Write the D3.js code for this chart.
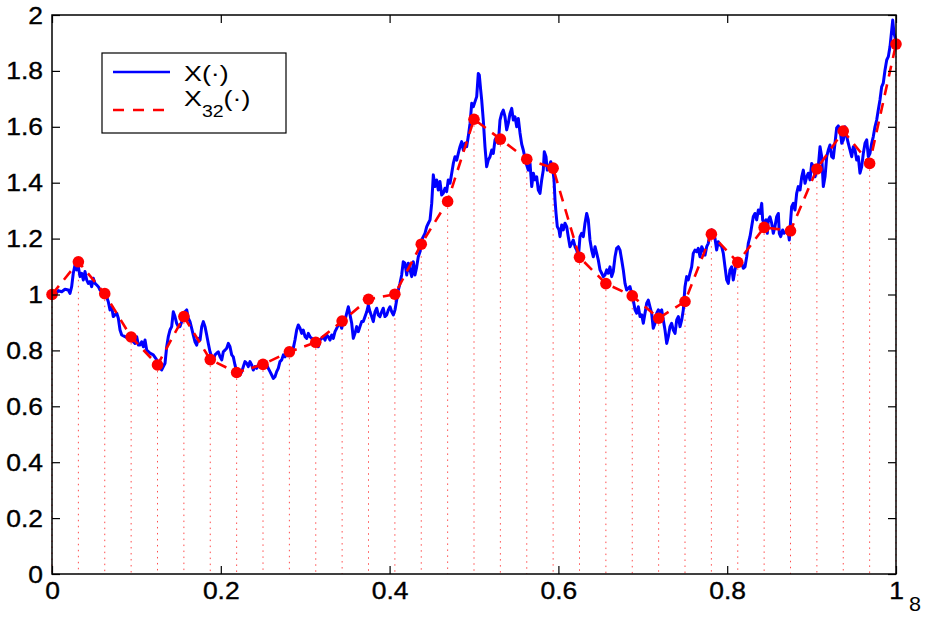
<!DOCTYPE html>
<html>
<head>
<meta charset="utf-8">
<script src="https://cdn.jsdelivr.net/npm/d3@7"></script>
<style>
  body { margin: 0; background: #fff; }
  text { font-family: "Liberation Sans", Arial, Helvetica, sans-serif; fill: #000; }
</style>
</head>
<body>
<svg id="chart" width="930" height="617"></svg>
<script>
// Fine path X(t), sampled along t in [0, 1]
const pathT = [
  0, 0.0036, 0.0075, 0.0115, 0.0154, 0.0193, 0.0213, 0.0233, 0.0252, 0.0273,
  0.0293, 0.0312, 0.0332, 0.0352, 0.0371, 0.0391, 0.0411, 0.0430, 0.0450, 0.0470,
  0.0489, 0.0509, 0.0530, 0.0549, 0.0569, 0.0608, 0.0648, 0.0667, 0.0687, 0.0707,
  0.0726, 0.0746, 0.0767, 0.0786, 0.0806, 0.0826, 0.0865, 0.0904, 0.0944, 0.0983,
  0.1004, 0.1023, 0.1043, 0.1063, 0.1082, 0.1102, 0.1122, 0.1161, 0.1200, 0.1241,
  0.1280, 0.1300, 0.1319, 0.1339, 0.1359, 0.1378, 0.1398, 0.1418, 0.1437, 0.1457,
  0.1477, 0.1496, 0.1517, 0.1537, 0.1556, 0.1576, 0.1596, 0.1615, 0.1635, 0.1655,
  0.1674, 0.1694, 0.1714, 0.1733, 0.1754, 0.1774, 0.1793, 0.1813, 0.1833, 0.1852,
  0.1872, 0.1892, 0.1911, 0.1931, 0.1951, 0.1970, 0.1991, 0.2011, 0.2030, 0.2050,
  0.2070, 0.2089, 0.2109, 0.2129, 0.2148, 0.2168, 0.2188, 0.2207, 0.2227, 0.2248,
  0.2267, 0.2287, 0.2307, 0.2326, 0.2346, 0.2366, 0.2385, 0.2405, 0.2425, 0.2444,
  0.2464, 0.2485, 0.2504, 0.2524, 0.2544, 0.2563, 0.2583, 0.2603, 0.2622, 0.2642,
  0.2662, 0.2681, 0.2701, 0.2722, 0.2741, 0.2761, 0.2781, 0.2800, 0.2820, 0.2840,
  0.2859, 0.2879, 0.2899, 0.2918, 0.2938, 0.2958, 0.2977, 0.2998, 0.3018, 0.3037,
  0.3057, 0.3077, 0.3096, 0.3116, 0.3136, 0.3155, 0.3175, 0.3195, 0.3214, 0.3235,
  0.3255, 0.3274, 0.3294, 0.3314, 0.3333, 0.3353, 0.3373, 0.3392, 0.3412, 0.3432,
  0.3451, 0.3472, 0.3492, 0.3511, 0.3531, 0.3551, 0.3570, 0.3590, 0.3610, 0.3629,
  0.3649, 0.3669, 0.3688, 0.3709, 0.3729, 0.3748, 0.3768, 0.3788, 0.3807, 0.3827,
  0.3847, 0.3866, 0.3886, 0.3906, 0.3925, 0.3945, 0.3966, 0.3985, 0.4005, 0.4025,
  0.4044, 0.4064, 0.4084, 0.4103, 0.4123, 0.4143, 0.4162, 0.4182, 0.4203, 0.4222,
  0.4242, 0.4262, 0.4281, 0.4301, 0.4321, 0.4340, 0.4360, 0.4380, 0.4419, 0.4440,
  0.4459, 0.4479, 0.4499, 0.4518, 0.4538, 0.4558, 0.4577, 0.4597, 0.4617, 0.4636,
  0.4656, 0.4676, 0.4695, 0.4716, 0.4736, 0.4755, 0.4775, 0.4795, 0.4814, 0.4834,
  0.4854, 0.4873, 0.4893, 0.4913, 0.4932, 0.4953, 0.4973, 0.4992, 0.5012, 0.5032,
  0.5051, 0.5063, 0.5079, 0.5091, 0.5110, 0.5130, 0.5150, 0.5169, 0.5190, 0.5210,
  0.5229, 0.5249, 0.5269, 0.5288, 0.5308, 0.5328, 0.5347, 0.5367, 0.5387, 0.5406,
  0.5427, 0.5447, 0.5466, 0.5486, 0.5506, 0.5525, 0.5545, 0.5565, 0.5584, 0.5604,
  0.5624, 0.5643, 0.5664, 0.5684, 0.5703, 0.5723, 0.5743, 0.5762, 0.5782, 0.5802,
  0.5821, 0.5833, 0.5853, 0.5868, 0.5892, 0.5909, 0.5932, 0.5948, 0.5960, 0.5972,
  0.5987, 0.6007, 0.6019, 0.6039, 0.6058, 0.6078, 0.6098, 0.6117, 0.6137, 0.6158,
  0.6177, 0.6197, 0.6217, 0.6236, 0.6256, 0.6276, 0.6295, 0.6315, 0.6335, 0.6354,
  0.6374, 0.6394, 0.6414, 0.6434, 0.6454, 0.6473, 0.6493, 0.6513, 0.6532, 0.6552,
  0.6572, 0.6591, 0.6611, 0.6631, 0.6650, 0.6671, 0.6690, 0.6710, 0.6730, 0.6750,
  0.6769, 0.6789, 0.6809, 0.6848, 0.6868, 0.6887, 0.6908, 0.6928, 0.6947, 0.6967,
  0.6987, 0.7006, 0.7026, 0.7046, 0.7065, 0.7085, 0.7105, 0.7124, 0.7145, 0.7165,
  0.7184, 0.7204, 0.7224, 0.7243, 0.7263, 0.7283, 0.7302, 0.7322, 0.7342, 0.7361,
  0.7382, 0.7402, 0.7421, 0.7441, 0.7461, 0.7480, 0.7500, 0.7520, 0.7539, 0.7559,
  0.7579, 0.7598, 0.7618, 0.7638, 0.7657, 0.7678, 0.7698, 0.7717, 0.7737, 0.7757,
  0.7776, 0.7796, 0.7816, 0.7835, 0.7855, 0.7875, 0.7894, 0.7915, 0.7935, 0.7954,
  0.7974, 0.7994, 0.8013, 0.8033, 0.8053, 0.8072, 0.8092, 0.8112, 0.8131, 0.8152,
  0.8172, 0.8191, 0.8211, 0.8231, 0.8250, 0.8270, 0.8290, 0.8309, 0.8329, 0.8349,
  0.8369, 0.8389, 0.8409, 0.8420, 0.8436, 0.8460, 0.8475, 0.8487, 0.8507, 0.8527,
  0.8546, 0.8566, 0.8586, 0.8606, 0.8617, 0.8634, 0.8657, 0.8673, 0.8697, 0.8724,
  0.8736, 0.8752, 0.8764, 0.8783, 0.8803, 0.8823, 0.8842, 0.8863, 0.8883, 0.8902,
  0.8922, 0.8942, 0.8961, 0.8981, 0.9001, 0.9020, 0.9040, 0.9060, 0.9079, 0.9100,
  0.9120, 0.9139, 0.9159, 0.9179, 0.9198, 0.9218, 0.9238, 0.9257, 0.9277, 0.9297,
  0.9316, 0.9336, 0.9357, 0.9376, 0.9396, 0.9416, 0.9435, 0.9455, 0.9475, 0.9494,
  0.9514, 0.9534, 0.9553, 0.9573, 0.9593, 0.9613, 0.9633, 0.9653, 0.9672, 0.9692,
  0.9712, 0.9731, 0.9751, 0.9771, 0.9790, 0.9810, 0.9830, 0.9849, 0.9870, 0.9890,
  0.9909, 0.9929, 0.9949, 0.9961, 0.9976, 0.9988, 1.0000
];
const pathX = [
  1.000, 0.998, 1.014, 1.010, 1.019, 1.016, 1.004, 1.028, 1.076, 1.106,
  1.088, 1.099, 1.064, 1.076, 1.052, 1.082, 1.052, 1.040, 1.046, 1.028,
  1.058, 1.040, 1.034, 1.028, 1.016, 1.004, 0.992, 0.974, 0.945, 0.956,
  0.921, 0.927, 0.933, 0.915, 0.873, 0.855, 0.849, 0.843, 0.837, 0.825,
  0.849, 0.819, 0.819, 0.831, 0.813, 0.837, 0.801, 0.790, 0.784, 0.766,
  0.736, 0.730, 0.742, 0.754, 0.813, 0.849, 0.873, 0.885, 0.938, 0.921,
  0.897, 0.885, 0.885, 0.903, 0.921, 0.938, 0.945, 0.915, 0.903, 0.879,
  0.855, 0.831, 0.819, 0.843, 0.837, 0.885, 0.903, 0.885, 0.855, 0.825,
  0.795, 0.777, 0.766, 0.784, 0.790, 0.795, 0.777, 0.766, 0.795, 0.801,
  0.808, 0.825, 0.813, 0.784, 0.777, 0.748, 0.724, 0.718, 0.712, 0.724,
  0.742, 0.760, 0.754, 0.742, 0.760, 0.748, 0.730, 0.742, 0.736, 0.748,
  0.754, 0.748, 0.742, 0.754, 0.748, 0.736, 0.724, 0.712, 0.700, 0.706,
  0.724, 0.736, 0.760, 0.766, 0.784, 0.777, 0.790, 0.784, 0.795, 0.801,
  0.808, 0.837, 0.873, 0.891, 0.880, 0.861, 0.873, 0.849, 0.843, 0.861,
  0.849, 0.843, 0.837, 0.831, 0.825, 0.813, 0.837, 0.843, 0.849, 0.837,
  0.855, 0.849, 0.837, 0.855, 0.843, 0.867, 0.879, 0.891, 0.897, 0.879,
  0.903, 0.909, 0.933, 0.956, 0.927, 0.897, 0.843, 0.861, 0.885, 0.867,
  0.885, 0.903, 0.903, 0.921, 0.938, 0.962, 0.938, 0.921, 0.903, 0.938,
  0.951, 0.927, 0.921, 0.938, 0.951, 0.921, 0.927, 0.945, 0.956, 0.938,
  0.927, 0.945, 0.980, 1.016, 1.040, 1.070, 1.117, 1.112, 1.070, 1.112,
  1.088, 1.064, 1.117, 1.070, 1.099, 1.135, 1.153, 1.195, 1.219, 1.243,
  1.255, 1.267, 1.326, 1.428, 1.386, 1.410, 1.374, 1.404, 1.356, 1.362,
  1.380, 1.368, 1.410, 1.398, 1.434, 1.469, 1.493, 1.481, 1.505, 1.529,
  1.547, 1.517, 1.541, 1.529, 1.565, 1.612, 1.684, 1.672, 1.690, 1.708,
  1.791, 1.785, 1.732, 1.696, 1.624, 1.529, 1.457, 1.481, 1.493, 1.517,
  1.505, 1.553, 1.565, 1.541, 1.624, 1.648, 1.660, 1.636, 1.589, 1.612,
  1.648, 1.666, 1.624, 1.636, 1.600, 1.630, 1.578, 1.538, 1.517, 1.488,
  1.463, 1.445, 1.469, 1.386, 1.434, 1.410, 1.421, 1.374, 1.362, 1.410,
  1.445, 1.511, 1.493, 1.445, 1.457, 1.475, 1.452, 1.410, 1.338, 1.290,
  1.243, 1.231, 1.207, 1.249, 1.231, 1.255, 1.243, 1.207, 1.171, 1.183,
  1.195, 1.171, 1.159, 1.131, 1.207, 1.219, 1.207, 1.255, 1.290, 1.267,
  1.195, 1.159, 1.135, 1.171, 1.147, 1.123, 1.088, 1.076, 1.064, 1.070,
  1.088, 1.076, 1.099, 1.064, 1.082, 1.135, 1.165, 1.171, 1.159, 1.123,
  1.088, 1.040, 1.016, 1.028, 1.004, 0.980, 0.945, 0.933, 0.956, 0.921,
  0.927, 0.897, 0.933, 0.969, 0.980, 0.956, 0.933, 0.879, 0.897, 0.933,
  0.945, 0.938, 0.945, 0.909, 0.873, 0.825, 0.849, 0.885, 0.897, 0.873,
  0.861, 0.909, 0.921, 0.885, 0.909, 0.945, 1.028, 1.064, 1.052, 1.076,
  1.099, 1.147, 1.159, 1.153, 1.165, 1.135, 1.171, 1.159, 1.141, 1.171,
  1.183, 1.219, 1.231, 1.219, 1.201, 1.159, 1.189, 1.177, 1.171, 1.147,
  1.099, 1.052, 1.040, 1.088, 1.099, 1.052, 1.088, 1.112, 1.123, 1.110,
  1.112, 1.094, 1.099, 1.135, 1.183, 1.207, 1.243, 1.278, 1.290, 1.267,
  1.302, 1.290, 1.326, 1.267, 1.255, 1.267, 1.219, 1.267, 1.278, 1.255,
  1.219, 1.243, 1.278, 1.290, 1.219, 1.207, 1.231, 1.219, 1.225, 1.219,
  1.195, 1.267, 1.314, 1.326, 1.302, 1.362, 1.386, 1.374, 1.421, 1.445,
  1.398, 1.421, 1.434, 1.410, 1.469, 1.457, 1.421, 1.445, 1.457, 1.529,
  1.493, 1.386, 1.421, 1.493, 1.517, 1.535, 1.493, 1.488, 1.541, 1.596,
  1.603, 1.592, 1.541, 1.553, 1.600, 1.565, 1.541, 1.517, 1.493, 1.529,
  1.517, 1.481, 1.493, 1.434, 1.457, 1.505, 1.541, 1.553, 1.493, 1.505,
  1.541, 1.565, 1.600, 1.624, 1.660, 1.696, 1.743, 1.756, 1.803, 1.839,
  1.851, 1.887, 1.946, 1.982, 1.935, 1.922, 1.900
];

// Coarse approximation X_32: values at t = k/32
const sampleT = [
  0, 0.03125, 0.0625, 0.09375, 0.125, 0.15625, 0.1875, 0.21875, 0.25,
  0.28125, 0.3125, 0.34375, 0.375, 0.40625, 0.4375, 0.46875, 0.5,
  0.53125, 0.5625, 0.59375, 0.625, 0.65625, 0.6875, 0.71875, 0.75,
  0.78125, 0.8125, 0.84375, 0.875, 0.90625, 0.9375, 0.96875, 1
];
const sampleX = [
  1.000, 1.117, 1.003, 0.848, 0.748, 0.921, 0.767, 0.721, 0.750,
  0.795, 0.829, 0.905, 0.983, 1.001, 1.180, 1.333, 1.627,
  1.556, 1.484, 1.452, 1.133, 1.039, 0.995, 0.915, 0.975,
  1.216, 1.115, 1.240, 1.228, 1.449, 1.585, 1.469, 1.896
];

const xTicks = [0, 0.2, 0.4, 0.6, 0.8, 1];
const yTicks = [0, 0.2, 0.4, 0.6, 0.8, 1, 1.2, 1.4, 1.6, 1.8, 2];

const pathData = pathT.map((t, i) => ({ t, v: pathX[i] }));
const sampleData = sampleT.map((t, i) => ({ t, v: sampleX[i] }));

const svg = d3.select("#chart");
const plot = { left: 52, right: 896, top: 15, bottom: 574 };

const x = d3.scaleLinear().domain([0, 1]).range([plot.left, plot.right]);
const y = d3.scaleLinear().domain([0, 2]).range([plot.bottom, plot.top]);

const tickFmt = d => d3.format("~g")(d);
const textStretch = 1.15;

// Dotted drop lines from each sample down to the t-axis
svg.append("g")
  .selectAll("line")
  .data(sampleData)
  .join("line")
  .attr("x1", d => x(d.t)).attr("x2", d => x(d.t))
  .attr("y1", d => y(d.v)).attr("y2", y(0))
  .attr("stroke", "#ff0000")
  .attr("stroke-width", 1)
  .attr("stroke-opacity", 0.7)
  .attr("stroke-dasharray", "1.5,4.5");

// Fine path
const line = d3.line().x(d => x(d.t)).y(d => y(d.v));
svg.append("path")
  .datum(pathData)
  .attr("d", line)
  .attr("fill", "none")
  .attr("stroke", "#0000ff")
  .attr("stroke-width", 3)
  .attr("stroke-linejoin", "round");

// Piecewise-linear X_32
svg.append("path")
  .datum(sampleData)
  .attr("d", line)
  .attr("fill", "none")
  .attr("stroke", "#ff0000")
  .attr("stroke-width", 2.6)
  .attr("stroke-dasharray", "11,8");

svg.append("g")
  .selectAll("circle")
  .data(sampleData)
  .join("circle")
  .attr("cx", d => x(d.t))
  .attr("cy", d => y(d.v))
  .attr("r", 5.8)
  .attr("fill", "#ff0000");

// Axes box with inward ticks on all four sides
const tickLen = 8;
const axisG = svg.append("g");
axisG.append("rect")
  .attr("x", plot.left).attr("y", plot.top)
  .attr("width", plot.right - plot.left).attr("height", plot.bottom - plot.top)
  .attr("fill", "none").attr("stroke", "#000").attr("stroke-width", 1.5);

const bottomAxis = d3.axisBottom(x).tickValues(xTicks).tickSizeInner(-tickLen).tickSizeOuter(0).tickFormat(tickFmt);
const topAxis = d3.axisTop(x).tickValues(xTicks).tickSizeInner(-tickLen).tickSizeOuter(0).tickFormat("");
const leftAxis = d3.axisLeft(y).tickValues(yTicks).tickSizeInner(-tickLen).tickSizeOuter(0).tickFormat(tickFmt);
const rightAxis = d3.axisRight(y).tickValues(yTicks).tickSizeInner(-tickLen).tickSizeOuter(0).tickFormat("");

function styleAxis(g) {
  g.select(".domain").remove();
  g.selectAll(".tick line").attr("stroke", "#000").attr("stroke-width", 1.2);
  g.selectAll(".tick text")
    .attr("fill", "#000")
    .attr("stroke", "#000")
    .attr("stroke-width", 0.35)
    .style("font-family", '"Liberation Sans", Arial, sans-serif')
    .style("font-size", "23px");
}

axisG.append("g").attr("transform", `translate(0,${plot.bottom})`).call(bottomAxis).call(styleAxis)
  .selectAll(".tick text")
  .attr("x", 0).attr("y", 0).attr("dy", null)
  .attr("transform", `translate(0,25) scale(${textStretch},1)`);
axisG.append("g").attr("transform", `translate(0,${plot.top})`).call(topAxis).call(styleAxis);
axisG.append("g").attr("transform", `translate(${plot.left},0)`).call(leftAxis).call(styleAxis)
  .selectAll(".tick text")
  .attr("x", 0).attr("y", 0).attr("dy", null)
  .attr("transform", `translate(-9,8) scale(${textStretch},1)`);
axisG.append("g").attr("transform", `translate(${plot.right},0)`).call(rightAxis).call(styleAxis);

// Stray exponent-style label beside the t-axis end
svg.append("text")
  .attr("text-anchor", "middle")
  .attr("transform", `translate(915,611) scale(1.08,1)`)
  .style("font-size", "20px")
  .text("8");

// Legend
const lg = svg.append("g");
lg.append("rect")
  .attr("x", 102).attr("y", 53).attr("width", 184).attr("height", 80)
  .attr("fill", "#fff").attr("stroke", "#000").attr("stroke-width", 1.2);
lg.append("line")
  .attr("x1", 113).attr("x2", 170).attr("y1", 72).attr("y2", 72)
  .attr("stroke", "#0000ff").attr("stroke-width", 2.4);
lg.append("line")
  .attr("x1", 113).attr("x2", 170).attr("y1", 110).attr("y2", 110)
  .attr("stroke", "#ff0000").attr("stroke-width", 2.4)
  .attr("stroke-dasharray", "11,9");
lg.append("text")
  .attr("transform", "translate(184,80.5) scale(1.22,1)")
  .style("font-size", "22px")
  .text("X(\u00B7)");
const t2 = lg.append("text")
  .attr("transform", "translate(184,106) scale(1.22,1)")
  .style("font-size", "22px");
t2.append("tspan").text("X");
t2.append("tspan").attr("dy", 11).style("font-size", "16px").text("32");
t2.append("tspan").attr("dy", -11).text("(\u00B7)");
</script>
</body>
</html>
